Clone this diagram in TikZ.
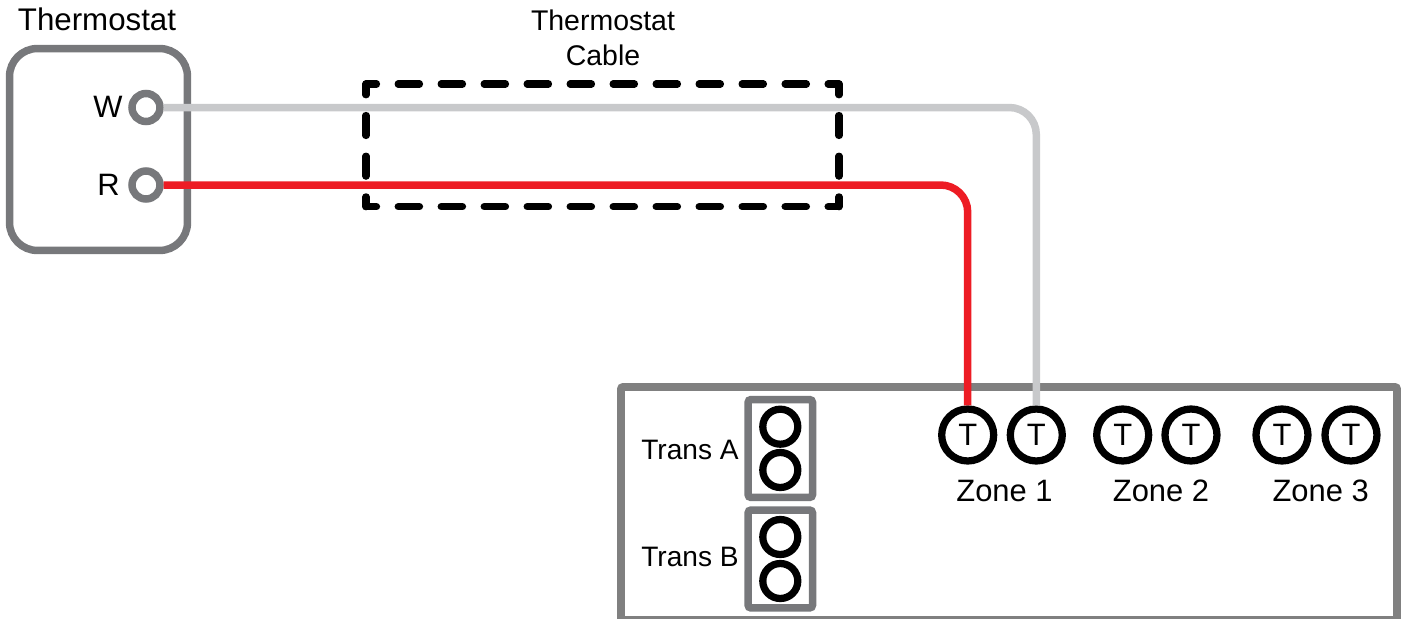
\documentclass[tikz,border=0pt]{standalone}
\usepackage{fontspec}
\setmainfont{Liberation Sans}
\usepackage{xcolor}
\usepackage{tikz}
\usetikzlibrary{calc}
\definecolor{boxgray}{HTML}{77787B}
\definecolor{mainGray}{HTML}{808080}
\definecolor{wiregray}{HTML}{C8C9CB}
\definecolor{wirered}{HTML}{ED1C24}
\tikzset{
  label text/.style={inner sep=0pt, font=\fontsize{17.6}{20}\selectfont},
  thermo terminal/.style={circle, draw=boxgray, line width=0.15cm, fill=white, minimum size=0.56cm, inner sep=0pt},
  trans terminal/.style={circle, draw=black, line width=0.145cm, minimum size=0.7cm, inner sep=0pt},
  zone terminal/.style={circle, draw=black, line width=0.145cm, minimum size=1.04cm, inner sep=0pt, font=\fontsize{17.6}{20}\selectfont},
  trans box/.style={rectangle, draw=boxgray, line width=0.15cm, rounded corners=0.06cm, minimum width=1.29cm, minimum height=1.96cm, inner sep=0pt},
  trans text/.style={inner sep=0pt, font=\fontsize{16}{20}\selectfont},
  cable line/.style={line width=0.145cm, line cap=round},
  wire/.style={line width=0.15cm, rounded corners=0.54cm}
}

\begin{document}
\begin{tikzpicture}[x=0.02cm, y=-0.02cm]
\useasboundingbox (0,0) rectangle (1401,619);

% thermostat
\node[rectangle, draw=boxgray, line width=0.15cm, rounded corners=0.56cm, minimum width=3.56cm, minimum height=4.04cm, inner sep=0pt] (thermostat) at (98.5,149.5) {};
\node[label text, font=\fontsize{17.8}{20}\selectfont] (thermostatlabel) at (97,19) {Thermostat};
\node[thermo terminal] (W) at (146,107.5) {};
\node[thermo terminal] (R) at (146,185) {};
\node[label text, anchor=east] (Wlabel) at (123,107) {W};
\node[label text, anchor=east] (Rlabel) at (120,185) {R};

% cable
\coordinate (cableA) at (366,84);
\coordinate (cableB) at (839,84);
\coordinate (cableC) at (839,206.7);
\coordinate (cableD) at (366,206.7);
\draw[cable line, dash pattern=on 0.426cm off 0.434cm, dash phase=0.216cm] (cableA) -- (cableB);
\draw[cable line, dash pattern=on 0.426cm off 0.434cm, dash phase=0.216cm] (cableD) -- (cableC);
\draw[cable line, dash pattern=on 0.4cm off 0.414cm, dash phase=0.184cm] (cableA) -- (cableD);
\draw[cable line, dash pattern=on 0.4cm off 0.414cm, dash phase=0.184cm] (cableB) -- (cableC);
\node[label text, align=center, font=\fontsize{16.2}{19.8}\selectfont] (cablelabel) at (603,37.5) {Thermostat\\Cable};

% controller
\coordinate (mainA) at (621,387);
\coordinate (mainB) at (1397,620);
\draw[mainGray, line width=0.155cm, rounded corners=0.04cm] (mainA) rectangle (mainB);

\node[trans box] (transA) at (780.3,448.5) {};
\node[trans box] (transB) at (780.3,559) {};
\node[trans terminal] (A1) at (780.3,426.7) {};
\node[trans terminal] (A2) at (780.3,470) {};
\node[trans terminal] (B1) at (780.3,537) {};
\node[trans terminal] (B2) at (780.3,581) {};
\node[trans text] (transAlabel) at (690,450) {Trans A};
\node[trans text] (transBlabel) at (690,557) {Trans B};

\node[zone terminal] (Z1a) at (967.7,435) {T};
\node[zone terminal] (Z1b) at (1036.3,435) {T};
\node[zone terminal] (Z2a) at (1122.7,435) {T};
\node[zone terminal] (Z2b) at (1191,435) {T};
\node[zone terminal] (Z3a) at (1282,435) {T};
\node[zone terminal] (Z3b) at (1351,435) {T};
\node[label text] (zone1) at (1004.5,491) {Zone 1};
\node[label text] (zone2) at (1161,491) {Zone 2};
\node[label text] (zone3) at (1320.7,491) {Zone 3};

% wires
\draw[wire, wiregray] (W.east) -| (Z1b.north);
\draw[wire, wirered] (R.east) -| (Z1a.north);
\end{tikzpicture}
\end{document}
